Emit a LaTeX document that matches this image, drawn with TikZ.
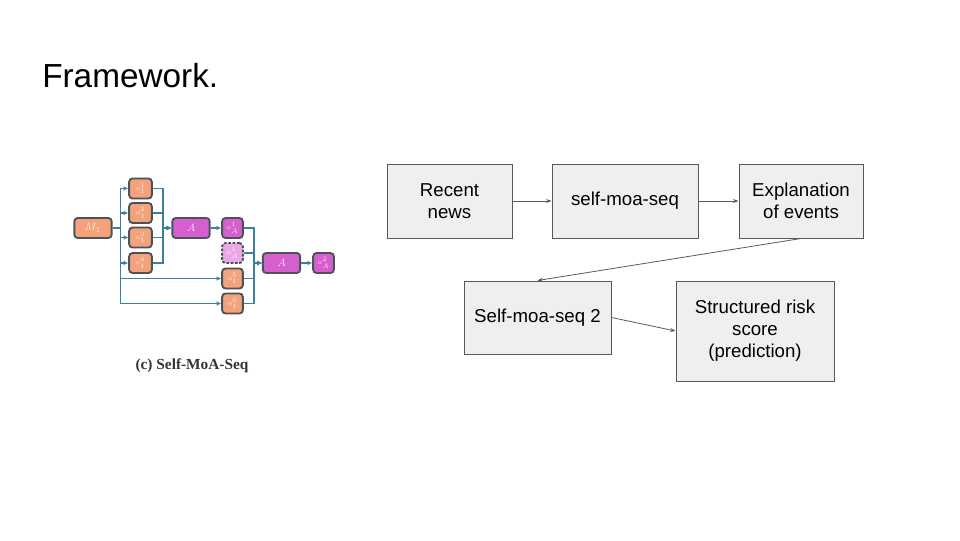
\documentclass[tikz,border=0pt]{standalone}
\usepackage{fontspec}
\setmainfont{Liberation Sans}
\newfontfamily\capfont{Liberation Serif}
\usepackage{tikz}
\usetikzlibrary{calc,arrows.meta,positioning}

\definecolor{moaorange}{HTML}{F4A27C}
\definecolor{moapink}{HTML}{D65FD0}
\definecolor{moalight}{HTML}{EBA8E6}
\definecolor{moaedge}{HTML}{4A5357}
\definecolor{moaline}{HTML}{3D7FA0}
\definecolor{boxfill}{HTML}{EFEFEF}
\definecolor{boxedge}{HTML}{595959}

\tikzset{
  cell/.style={draw=moaedge, line width=1.4pt, rounded corners=2.5pt,
    minimum width=17pt, minimum height=15pt, inner sep=0pt,
    text=white, text opacity=0.8, font=\fontsize{5.5}{5.5}\selectfont},
  outcell/.style={cell, fill=moaorange},
  aggcell/.style={cell, fill=moapink},
  wide/.style={minimum width=28pt},
  flow/.style={draw=moaline, line width=1.3pt, -{Latex[length=3.5pt,width=3.5pt]}},
  stepbox/.style={draw=boxedge, fill=boxfill, line width=0.75pt,
    align=center, inner sep=0pt, font=\fontsize{14}{16.5}\selectfont},
  link/.style={draw=boxedge, line width=0.6pt, -{Stealth[length=4pt,width=3pt]}}
}

\begin{document}
\begin{tikzpicture}[x=0.75pt,y=-0.75pt]
\useasboundingbox (0,0) rectangle (960,540);

\node[anchor=base west, inner sep=0pt, font=\fontsize{25}{25}\selectfont] (title) at (42,87) {Framework.};

% self-moa-seq picture
\node[outcell, minimum width=28pt, font=\fontsize{8}{8}\selectfont] (m1) at (93,228) {$M_1$};
\node[outcell] (o11) at (140.5,188.5) {$o_1^1$};
\node[outcell] (o12) at (140.5,213) {$o_1^2$};
\node[outcell] (o13) at (140.5,237.5) {$o_1^3$};
\node[outcell] (o14) at (140.5,263) {$o_1^4$};
\node[aggcell, wide, font=\fontsize{8}{8}\selectfont] (agg1) at (191,228) {$A$};
\node[aggcell, minimum width=15.5pt] (oa1) at (232.5,228) {$o_A^1$};
\node[cell, fill=moalight, minimum width=15.5pt, dash pattern=on 2pt off 1.2pt] (oad) at (232.5,253) {$o_A^1$};
\node[outcell, minimum width=15.5pt] (o15) at (232.5,278.5) {$o_1^5$};
\node[outcell, minimum width=15.5pt] (o16) at (232.5,303.5) {$o_1^6$};
\node[aggcell, wide, font=\fontsize{8}{8}\selectfont] (agg2) at (281.5,263) {$A$};
\node[aggcell, minimum width=15.5pt] (oa2) at (323.5,263) {$o_A^2$};

\foreach \n in {o11,o12,o13,o14,o15,o16}
  \draw[flow] (m1.east) -- ++(8,0) |- (\n.west);
\foreach \n in {o11,o12,o13,o14}
  \draw[flow] (\n.east) -- ++(10,0) |- (agg1.west);
\draw[flow] (agg1) -- (oa1);
\foreach \n in {oa1,oad,o15,o16}
  \draw[flow] (\n.east) -- ++(10,0) |- (agg2.west);
\draw[flow] (agg2) -- (oa2);

\node[font=\capfont\bfseries\fontsize{11.5}{11.5}\selectfont, text=black!80] (cap) at (192,366) {(c) Self-MoA-Seq};

% pipeline
\node[stepbox, minimum width=93.75pt, minimum height=55.5pt] (news) at (449.5,201) {Recent\\news};
\node[stepbox, minimum width=109.5pt, minimum height=55.5pt] (seq) at (625,201) {self-moa-seq};
\node[stepbox, minimum width=93pt, minimum height=55.5pt] (expl) at (801,201) {Explanation\\of events};
\node[stepbox, minimum width=110.25pt, minimum height=54.75pt] (seq2) at (537.5,317.5) {Self-moa-seq 2};
\node[stepbox, minimum width=118.5pt, minimum height=75pt] (risk) at (755,331) {Structured risk\\score\\(prediction)};

\draw[link] (news) -- (seq);
\draw[link] (seq) -- (expl);
\draw[link] (expl.south) -- (seq2.north);
\draw[link] (seq2.east) -- (risk.west);
\end{tikzpicture}
\end{document}
